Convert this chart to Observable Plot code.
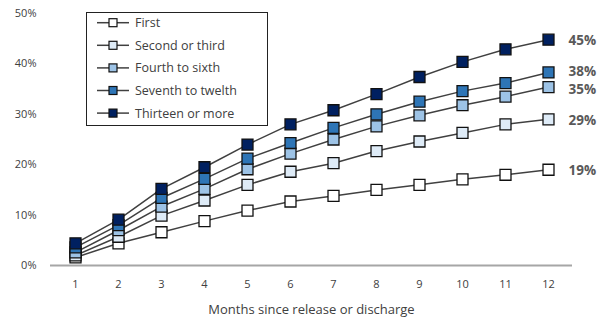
<!DOCTYPE html>
<html>
<head>
<meta charset="utf-8">
<script src="https://cdn.jsdelivr.net/npm/d3@7"></script>
<script src="https://cdn.jsdelivr.net/npm/@observablehq/plot@0.6"></script>
<style>
  html, body { margin: 0; padding: 0; background: #fff; }
  #chart { width: 602px; height: 319px; }
</style>
</head>
<body>
<div id="chart"></div>
<script>
const months = [1, 2, 3, 4, 5, 6, 7, 8, 9, 10, 11, 12];
const seriesNames = ["First", "Second or third", "Fourth to sixth", "Seventh to twelth", "Thirteen or more"];
const seriesColors = ["#ffffff", "#deebf7", "#9dc3e6", "#2e75b6", "#002060"];
const first    = [1.6, 4.4, 6.6, 8.8, 10.9, 12.7, 13.8, 15.0, 16.0, 17.1, 18.0, 19.0];
const second   = [2.0, 5.7, 9.9, 12.9, 16.0, 18.6, 20.3, 22.7, 24.6, 26.3, 28.0, 29.0];
const fourth   = [2.6, 7.0, 11.7, 15.2, 19.1, 22.2, 25.0, 27.6, 29.8, 31.8, 33.5, 35.4];
const seventh  = [3.6, 8.0, 13.4, 17.2, 21.2, 24.3, 27.3, 30.0, 32.5, 34.6, 36.2, 38.3];
const thirteen = [4.4, 9.1, 15.2, 19.5, 24.0, 28.0, 30.8, 34.0, 37.4, 40.4, 42.9, 44.8];
const endLabels = ["19%", "29%", "35%", "38%", "45%"];
const yTicks = [0, 10, 20, 30, 40, 50];
const xTitle = "Months since release or discharge";

const seriesValues = [first, second, fourth, seventh, thirteen];
const rows = [];
seriesNames.forEach((name, si) => {
  seriesValues[si].forEach((v, i) => rows.push({series: name, month: months[i], value: v}));
});
const ends = seriesNames.map((name, si) => ({series: name, month: months[months.length - 1], value: seriesValues[si][months.length - 1], label: endLabels[si]}));

const font = "'Open Sans', 'Noto Sans', sans-serif";
const endStyle = {x: "month", y: "value", text: "label", dx: 20, textAnchor: "start", fill: "#595959", fontSize: 13.5, fontWeight: "bold"};

const plot = Plot.plot({
  width: 602,
  height: 319,
  marginLeft: 50,
  marginRight: 30,
  marginTop: 13,
  marginBottom: 54,
  style: {fontFamily: font, fontSize: "11px", color: "#404040", background: "#fff"},
  x: {type: "point", domain: months, padding: 0.5, label: null},
  y: {domain: [0, 50], label: null},
  color: {domain: seriesNames, range: seriesColors},
  marks: [
    Plot.axisY({ticks: yTicks, tickSize: 0, tickPadding: 14, tickFormat: d => d + "%", fill: "#404040", fontSize: 11}),
    Plot.axisX({tickSize: 0, tickPadding: 15, fill: "#404040", fontSize: 11}),
    Plot.ruleY([0], {stroke: "#a6a6a6", strokeWidth: 2}),
    Plot.line(rows, {x: "month", y: "value", z: "series", stroke: "#404040", strokeWidth: 1.5}),
    Plot.dot(rows, {x: "month", y: "value", symbol: "square", r: 6.2, fill: "series", stroke: "#111", strokeWidth: 1.3}),
    Plot.text(ends.filter(d => d.series !== seriesNames[2] && d.series !== seriesNames[3]), {...endStyle, dy: 1}),
    Plot.text(ends.filter(d => d.series === seriesNames[3]), {...endStyle, dy: -1}),
    Plot.text(ends.filter(d => d.series === seriesNames[2]), {...endStyle, dy: 3}),
    Plot.text([xTitle], {frameAnchor: "bottom", dy: 48, fill: "#404040", fontSize: 13})
  ]
});
document.getElementById("chart").appendChild(plot);

// Legend inside plot area
const svg = d3.select(plot);
const lg = svg.append("g").attr("font-family", font).attr("text-anchor", "start");
lg.append("rect").attr("x", 86.5).attr("y", 12.5).attr("width", 181).attr("height", 113)
  .attr("fill", "#fff").attr("stroke", "#222").attr("stroke-width", 1);
seriesNames.forEach((name, i) => {
  const cy = 22.7 + i * 22.6;
  lg.append("line").attr("x1", 97).attr("x2", 129).attr("y1", cy).attr("y2", cy)
    .attr("stroke", "#404040").attr("stroke-width", 1.5);
  lg.append("rect").attr("x", 109).attr("y", cy - 4).attr("width", 8).attr("height", 8)
    .attr("fill", seriesColors[i]).attr("stroke", "#111").attr("stroke-width", 1.2);
  lg.append("text").attr("x", 135).attr("y", cy).attr("dy", "0.36em")
    .attr("text-anchor", "start").attr("font-size", 12.5).attr("fill", "#404040").text(name);
});
</script>
</body>
</html>
